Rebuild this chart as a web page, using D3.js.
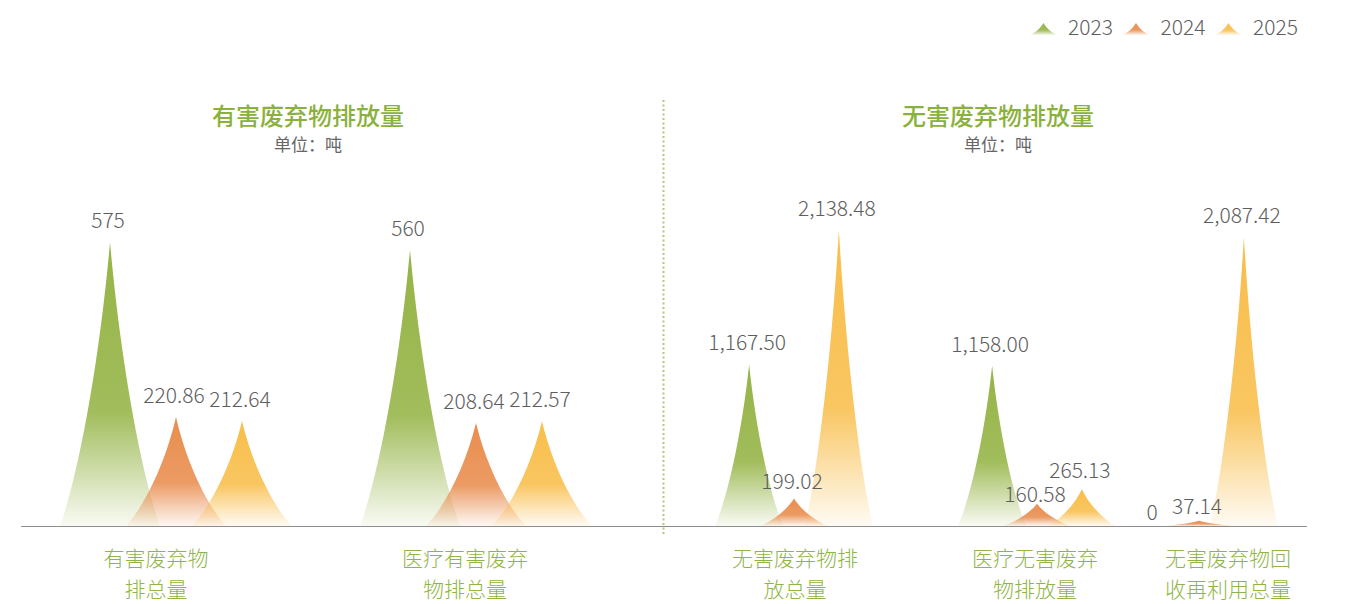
<!DOCTYPE html>
<html>
<head>
<meta charset="utf-8">
<script src="https://cdn.jsdelivr.net/npm/d3@7"></script>
<style>
  html, body { margin: 0; padding: 0; background: #fff; }
  svg { display: block; }
  text { font-family: "Noto Sans CJK SC", "Noto Sans", sans-serif; }
</style>
</head>
<body>
<div id="chart"></div>
<script>
// ---------------- data ----------------
const years = ["2023", "2024", "2025"];

const hazardousCategories = ["有害废弃物\n排总量", "医疗有害废弃\n物排总量"];
const hazardous2023 = [575, 560];
const hazardous2024 = [220.86, 208.64];
const hazardous2025 = [212.64, 212.57];

const nonHazardousCategories = ["无害废弃物排\n放总量", "医疗无害废弃\n物排放量", "无害废弃物回\n收再利用总量"];
const nonHazardous2023 = [1167.50, 1158.00, 0];
const nonHazardous2024 = [199.02, 160.58, 37.14];
const nonHazardous2025 = [2138.48, 265.13, 2087.42];

const panelTitles = ["有害废弃物排放量", "无害废弃物排放量"];
const unitLabel = "单位：吨";

// ---------------- styles / layout ----------------
const W = 1354, H = 604;
const colors = ["#95b446", "#e98d4e", "#f8be4b"];
const baseY = 526, topY = 230;

const panels = [
  { cats: hazardousCategories, series: [hazardous2023, hazardous2024, hazardous2025],
    centers: [176, 476], labelCenters: [156, 465], step: 300, yMax: 600,
    title: panelTitles[0], titleX: 308 },
  { cats: nonHazardousCategories, series: [nonHazardous2023, nonHazardous2024, nonHazardous2025],
    centers: [794, 1037, 1199], labelCenters: [795, 1035, 1228], step: 204, yMax: null,
    title: panelTitles[1], titleX: 998 }
];

const fmt = v => v === 0 ? "0" : (Number.isInteger(v) && v < 1000 ? d3.format(",")(v) : d3.format(",.2f")(v));

const svg = d3.select("#chart").append("svg").attr("width", W).attr("height", H);

// gradients
const defs = svg.append("defs");
colors.forEach((c, i) => {
  const g = defs.append("linearGradient").attr("id", "grad" + i)
    .attr("x1", 0).attr("y1", 0).attr("x2", 0).attr("y2", 1);
  g.append("stop").attr("offset", "0%").attr("stop-color", c).attr("stop-opacity", 1);
  g.append("stop").attr("offset", "60%").attr("stop-color", c).attr("stop-opacity", 0.88);
  g.append("stop").attr("offset", "100%").attr("stop-color", c).attr("stop-opacity", 0.06);
});

// concave "spike" symbol
function spikePath(cx, w, t, b) {
  const h = b - t;
  const px = (f) => f * w, py = (u) => b - u * h;
  return `M${cx - w},${b} ` +
    `C${cx - px(0.6)},${py(0.2)} ${cx - px(0.2)},${py(0.6)} ${cx},${t} ` +
    `C${cx + px(0.2)},${py(0.6)} ${cx + px(0.6)},${py(0.2)} ${cx + w},${b} Z`;
}

// axis line & divider
svg.append("line").attr("x1", 21).attr("x2", 1307).attr("y1", baseY + 0.5).attr("y2", baseY + 0.5)
  .attr("stroke", "#8c8c8c").attr("stroke-width", 1.2);
svg.append("line").attr("x1", 663.5).attr("x2", 663.5).attr("y1", 100).attr("y2", 536)
  .attr("stroke", "#aec97a").attr("stroke-width", 2).attr("stroke-dasharray", "2,2.5");

panels.forEach(p => {
  const x = d3.scaleOrdinal().domain(p.cats).range(p.centers);
  const xl = d3.scaleOrdinal().domain(p.cats).range(p.labelCenters);
  const off = d3.scalePoint().domain(years).range([-0.22 * p.step, 0.22 * p.step]);
  const maxV = p.yMax || d3.max(p.series.flat());
  const y = d3.scaleLinear().domain([0, maxV]).range([baseY, topY]);
  const halfW = p.step / 6;

  const g = svg.append("g");
  // titles
  g.append("text").attr("x", p.titleX).attr("y", 114.5).attr("text-anchor", "middle")
    .attr("dominant-baseline", "central").attr("font-size", 24).attr("font-weight", 500)
    .attr("fill", "#8ab13c").text(p.title);
  g.append("text").attr("x", p.titleX).attr("y", 143.5).attr("text-anchor", "middle")
    .attr("dominant-baseline", "central").attr("font-size", 17)
    .attr("fill", "#666").text(unitLabel);

  // spikes
  p.series.forEach((vals, si) => {
    g.append("g").selectAll("path").data(vals.map((v, i) => ({ v, c: p.cats[i] }))).join("path")
      .attr("d", d => spikePath(x(d.c) + off(years[si]), halfW, y(d.v), baseY))
      .attr("fill", `url(#grad${si})`);
  });

  // value labels (with simple overlap avoidance inside a category)
  const labels = [];
  p.series.forEach((vals, si) => vals.forEach((v, i) => {
    const h = baseY - y(v);
    labels.push({ v, c: p.cats[i], si,
      lx: x(p.cats[i]) + off(years[si]) - 2,
      ly: y(v) - (15 + 8 * Math.min(1, h / 60)),
      w: fmt(v).length * 10.5 });
  }));
  labels.forEach(a => labels.forEach(b => {
    if (a === b || a.c !== b.c || a.v >= b.v) return;
    const dx = Math.abs(a.lx - b.lx), dy = a.ly - b.ly;
    if (dx < (a.w + b.w) / 2 && dy >= 0 && dy < 24) a.ly = b.ly + 24;
  }));
  g.append("g").selectAll("text").data(labels).join("text")
    .attr("x", d => d.lx).attr("y", d => d.ly)
    .attr("text-anchor", "middle").attr("dominant-baseline", "central")
    .attr("font-size", 21).attr("font-weight", 300).attr("fill", "#5e5e5e")
    .text(d => fmt(d.v));

  // category labels (two lines)
  p.cats.forEach(c => {
    const t = g.append("text").attr("x", xl(c)).attr("y", 557)
      .attr("text-anchor", "middle").attr("dominant-baseline", "central")
      .attr("font-size", 21).attr("font-weight", 300).attr("fill", "#8fb548");
    c.split("\n").forEach((line, li) => {
      t.append("tspan").attr("x", xl(c)).attr("dy", li === 0 ? 0 : 30.6).text(line);
    });
  });
});

// legend
const legend = svg.append("g");
const legendX = d3.scalePoint().domain(years).range([1030, 1215]);
years.forEach((yr, i) => {
  const lx = legendX(yr);
  legend.append("path").attr("d", spikePath(lx + 13.5, 13.5, 23, 35)).attr("fill", `url(#grad${i})`);
  legend.append("text").attr("x", lx + 38).attr("y", 26).attr("dominant-baseline", "central")
    .attr("font-size", 21).attr("font-weight", 300).attr("fill", "#5e5e5e").text(yr);
});
</script>
</body>
</html>
